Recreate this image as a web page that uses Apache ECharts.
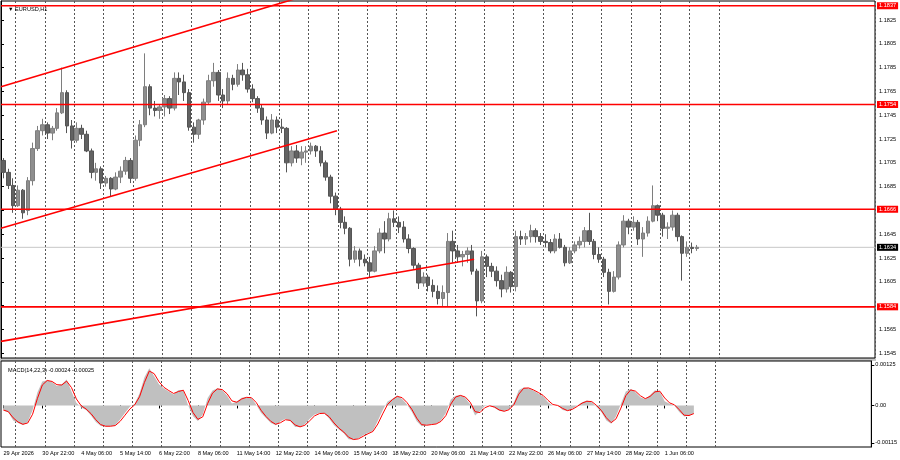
<!DOCTYPE html>
<html><head><meta charset="utf-8">
<script src="https://cdn.jsdelivr.net/npm/echarts@6/dist/echarts.min.js"></script>
<style>html,body{margin:0;padding:0;background:#fff}#c{width:900px;height:460px}</style>
</head><body><div id="c"></div>
<script>
const symbolTitle = '\u25BC EURUSD,H1';
const macdTitle = 'MACD(14,22,3) -0.00024 -0.00025';
const slotCount = 179; // 4-hour slots across the plot, incl. empty right margin
const xTickLabels = ['29 Apr 2026','30 Apr 22:00','4 May 06:00','5 May 14:00','6 May 22:00','8 May 06:00','11 May 14:00','12 May 22:00','14 May 06:00','15 May 14:00','18 May 22:00','20 May 06:00','21 May 14:00','22 May 22:00','26 May 06:00','27 May 14:00','28 May 22:00','1 Jun 06:00'];
const priceTicks = [1.1545,1.1565,1.1585,1.1605,1.1625,1.1645,1.1665,1.1685,1.1705,1.1725,1.1745,1.1765,1.1785,1.1805,1.1825];
const priceLabels = [1.1545,1.1565,1.1605,1.1625,1.1645,1.1685,1.1705,1.1725,1.1745,1.1765,1.1785,1.1805,1.1825];
const macdTicks = [0.00125, 0, -0.00115];
const levels = [1.1837, 1.1754, 1.1666, 1.1584];
const bidPrice = 1.1634;
const trendLines = [
  [[0, 1.1769], [62, 1.1845]],
  [[0, 1.1650], [68.8, 1.1732]],
  [[0, 1.1555], [96.9, 1.1624]]
];
// [open, close, low, high]
const candles = [
[1.1707,1.1697,1.1692,1.1709],[1.1697,1.1686,1.1683,1.1700],[1.1686,1.1669,1.1663,1.1692],[1.1669,1.1682,1.1668,1.1686],[1.1682,1.1663,1.1658,1.1683],
[1.1665,1.1690,1.1661,1.1693],[1.1690,1.1717,1.1686,1.1722],[1.1717,1.1732,1.1715,1.1736],[1.1732,1.1737,1.1728,1.1742],[1.1737,1.1730,1.1725,1.1739],
[1.1730,1.1734,1.1724,1.1736],[1.1734,1.1747,1.1732,1.1751],[1.1747,1.1764,1.1746,1.1785],[1.1764,1.1736,1.1730,1.1766],[1.1736,1.1724,1.1717,1.1741],
[1.1724,1.1734,1.1722,1.1739],[1.1734,1.1729,1.1725,1.1737],[1.1729,1.1715,1.1714,1.1732],[1.1715,1.1697,1.1692,1.1717],[1.1697,1.1700,1.1690,1.1705],
[1.1700,1.1688,1.1683,1.1702],[1.1688,1.1692,1.1685,1.1694],[1.1692,1.1683,1.1677,1.1693],[1.1683,1.1693,1.1682,1.1697],[1.1693,1.1698,1.1688,1.1702],
[1.1698,1.1707,1.1695,1.1710],[1.1707,1.1692,1.1688,1.1709],[1.1692,1.1724,1.1690,1.1728],[1.1724,1.1737,1.1719,1.1741],[1.1737,1.1769,1.1735,1.1797],
[1.1769,1.1751,1.1745,1.1771],[1.1751,1.1749,1.1744,1.1757],[1.1749,1.1752,1.1742,1.1754],[1.1752,1.1759,1.1744,1.1762],[1.1759,1.1751,1.1746,1.1761],
[1.1751,1.1776,1.1749,1.1781],[1.1776,1.1773,1.1762,1.1781],[1.1773,1.1764,1.1757,1.1779],[1.1764,1.1735,1.1732,1.1767],[1.1735,1.1729,1.1722,1.1739],
[1.1729,1.1741,1.1725,1.1742],[1.1741,1.1756,1.1737,1.1759],[1.1756,1.1774,1.1754,1.1779],[1.1774,1.1781,1.1769,1.1789],[1.1781,1.1762,1.1757,1.1783],
[1.1762,1.1757,1.1751,1.1767],[1.1757,1.1776,1.1754,1.1781],[1.1776,1.1771,1.1766,1.1779],[1.1771,1.1783,1.1769,1.1788],[1.1783,1.1779,1.1774,1.1789],
[1.1779,1.1767,1.1764,1.1784],[1.1767,1.1759,1.1756,1.1771],[1.1759,1.1751,1.1747,1.1761],[1.1751,1.1741,1.1737,1.1754],[1.1741,1.1730,1.1725,1.1744],
[1.1730,1.1741,1.1729,1.1746],[1.1741,1.1735,1.1730,1.1744],[1.1735,1.1734,1.1730,1.1742],[1.1734,1.1705,1.1697,1.1735],[1.1705,1.1715,1.1702,1.1719],
[1.1715,1.1709,1.1705,1.1720],[1.1709,1.1714,1.1703,1.1719],[1.1714,1.1715,1.1705,1.1719],[1.1715,1.1719,1.1712,1.1722],[1.1719,1.1715,1.1710,1.1720],
[1.1715,1.1705,1.1702,1.1719],[1.1705,1.1693,1.1690,1.1707],[1.1693,1.1677,1.1671,1.1695],[1.1677,1.1666,1.1661,1.1680],[1.1666,1.1655,1.1650,1.1668],
[1.1655,1.1650,1.1645,1.1660],[1.1650,1.1624,1.1618,1.1651],[1.1624,1.1631,1.1621,1.1635],[1.1631,1.1624,1.1618,1.1633],[1.1624,1.1621,1.1618,1.1628],
[1.1621,1.1614,1.1609,1.1626],[1.1614,1.1631,1.1613,1.1635],[1.1631,1.1646,1.1629,1.1650],[1.1646,1.1641,1.1629,1.1656],[1.1641,1.1658,1.1639,1.1663],
[1.1658,1.1655,1.1651,1.1665],[1.1655,1.1651,1.1646,1.1660],[1.1651,1.1641,1.1638,1.1656],[1.1641,1.1633,1.1629,1.1645],[1.1633,1.1619,1.1616,1.1634],
[1.1619,1.1604,1.1599,1.1621],[1.1604,1.1609,1.1601,1.1613],[1.1609,1.1602,1.1597,1.1611],[1.1602,1.1597,1.1592,1.1607],[1.1597,1.1591,1.1586,1.1602],
[1.1591,1.1596,1.1584,1.1602],[1.1596,1.1639,1.1584,1.1646],[1.1639,1.1631,1.1621,1.1648],[1.1631,1.1626,1.1621,1.1636],[1.1626,1.1628,1.1618,1.1631],
[1.1628,1.1631,1.1621,1.1634],[1.1631,1.1614,1.1611,1.1636],[1.1614,1.1589,1.1576,1.1616],[1.1589,1.1626,1.1587,1.1631],[1.1626,1.1618,1.1609,1.1628],
[1.1618,1.1614,1.1609,1.1621],[1.1614,1.1606,1.1601,1.1618],[1.1606,1.1599,1.1592,1.1611],[1.1599,1.1613,1.1596,1.1618],[1.1613,1.1601,1.1596,1.1614],
[1.1601,1.1643,1.1597,1.1648],[1.1643,1.1641,1.1636,1.1648],[1.1641,1.1643,1.1636,1.1646],[1.1643,1.1648,1.1638,1.1653],[1.1648,1.1643,1.1638,1.1650],
[1.1643,1.1639,1.1636,1.1646],[1.1639,1.1638,1.1634,1.1645],[1.1638,1.1631,1.1629,1.1641],[1.1631,1.1641,1.1629,1.1645],[1.1641,1.1634,1.1633,1.1646],
[1.1634,1.1621,1.1618,1.1636],[1.1621,1.1631,1.1620,1.1634],[1.1631,1.1636,1.1629,1.1639],[1.1636,1.1639,1.1633,1.1643],[1.1639,1.1648,1.1634,1.1651],
[1.1648,1.1639,1.1636,1.1663],[1.1639,1.1628,1.1624,1.1641],[1.1628,1.1624,1.1621,1.1634],[1.1624,1.1613,1.1609,1.1626],[1.1613,1.1597,1.1586,1.1616],
[1.1597,1.1609,1.1596,1.1614],[1.1609,1.1636,1.1607,1.1639],[1.1636,1.1656,1.1634,1.1661],[1.1656,1.1651,1.1645,1.1658],[1.1651,1.1655,1.1648,1.1660],
[1.1655,1.1641,1.1636,1.1657],[1.1641,1.1646,1.1626,1.1651],[1.1646,1.1656,1.1643,1.1660],[1.1656,1.1669,1.1655,1.1686],[1.1669,1.1661,1.1656,1.1670],
[1.1661,1.1650,1.1643,1.1663],[1.1650,1.1651,1.1641,1.1655],[1.1651,1.1661,1.1648,1.1665],[1.1661,1.1643,1.1639,1.1663],[1.1643,1.1629,1.1606,1.1644],
[1.1629,1.1634,1.1626,1.1639],[1.1634,1.1633,1.1629,1.1638],[1.1633,1.1634,1.1631,1.1636]
];
const macdMain = [-0.00016,-0.00021,-0.00046,-0.00054,-0.00060,-0.00051,-0.00015,0.00041,0.00074,0.00078,
0.00072,0.00060,0.00065,0.00080,0.00043,0.00008,-0.00006,-0.00014,-0.00031,-0.00051,
-0.00063,-0.00065,-0.00064,-0.00061,-0.00043,-0.00023,-0.00004,0.00005,0.00038,0.00087,
0.00115,0.00090,0.00065,0.00052,0.00043,0.00034,0.00048,0.00046,0.00000,-0.00033,
-0.00048,-0.00028,0.00023,0.00046,0.00053,0.00047,0.00031,0.00006,0.00012,0.00024,
0.00026,0.00023,0.00002,-0.00023,-0.00039,-0.00054,-0.00061,-0.00049,-0.00041,-0.00049,
-0.00066,-0.00066,-0.00058,-0.00041,-0.00028,-0.00023,-0.00024,-0.00041,-0.00061,-0.00074,
-0.00086,-0.00104,-0.00106,-0.00101,-0.00092,-0.00085,-0.00078,-0.00047,-0.00015,0.00012,
0.00021,0.00031,0.00020,0.00003,-0.00020,-0.00049,-0.00064,-0.00060,-0.00058,-0.00056,
-0.00046,-0.00023,0.00018,0.00030,0.00032,0.00023,0.00004,-0.00031,-0.00018,-0.00002,
0.00000,-0.00007,-0.00017,-0.00018,-0.00010,0.00010,0.00048,0.00055,0.00053,0.00046,
0.00037,0.00028,0.00010,0.00000,0.00000,-0.00014,-0.00017,-0.00010,0.00000,0.00010,
0.00015,0.00010,-0.00005,-0.00021,-0.00046,-0.00056,-0.00033,0.00005,0.00043,0.00051,
0.00041,0.00025,0.00019,0.00032,0.00047,0.00043,0.00013,0.00005,0.00000,-0.00020,
-0.00034,-0.00031,-0.00024];
const macdSignal = [-0.00014,-0.00019,-0.00038,-0.00051,-0.00058,-0.00054,-0.00027,0.00022,0.00063,0.00077,
0.00074,0.00064,0.00063,0.00075,0.00055,0.00020,-0.00001,-0.00011,-0.00025,-0.00044,
-0.00059,-0.00064,-0.00064,-0.00062,-0.00049,-0.00030,-0.00011,0.00002,0.00027,0.00071,
0.00106,0.00098,0.00073,0.00056,0.00046,0.00037,0.00043,0.00047,0.00015,-0.00022,
-0.00043,-0.00035,0.00006,0.00038,0.00051,0.00049,0.00036,0.00014,0.00010,0.00020,
0.00025,0.00024,0.00009,-0.00015,-0.00034,-0.00049,-0.00058,-0.00053,-0.00044,-0.00046,
-0.00060,-0.00066,-0.00061,-0.00047,-0.00032,-0.00025,-0.00024,-0.00035,-0.00054,-0.00070,
-0.00082,-0.00098,-0.00105,-0.00103,-0.00095,-0.00087,-0.00080,-0.00057,-0.00026,0.00003,
0.00018,0.00028,0.00024,0.00009,-0.00012,-0.00039,-0.00059,-0.00061,-0.00059,-0.00057,
-0.00049,-0.00031,0.00004,0.00026,0.00031,0.00026,0.00010,-0.00019,-0.00022,-0.00007,
-0.00001,-0.00005,-0.00014,-0.00018,-0.00013,0.00003,0.00035,0.00053,0.00054,0.00048,
0.00040,0.00031,0.00016,0.00003,0.00000,-0.00009,-0.00016,-0.00012,-0.00003,0.00007,
0.00013,0.00012,0.00000,-0.00016,-0.00038,-0.00053,-0.00041,-0.00008,0.00030,0.00048,
0.00044,0.00030,0.00021,0.00028,0.00042,0.00044,0.00023,0.00008,0.00002,-0.00013,
-0.00030,-0.00031,-0.00025];

const slots = [];
for (let i = 0; i < slotCount; i++) slots.push(String(i));
const FONT = 'Liberation Sans';
const FS = 5.6;
const labelEvery = 8;
const isLabel = (i) => i % labelEvery === 0 && i / labelEvery < xTickLabels.length;
const isDayLine = (i) => i >= 3 && i <= 147 && (i - 3) % 6 === 0;
const gridLine = { show: true, interval: isDayLine, lineStyle: { color: '#555', type: [2, 2], width: 1 } };

function hLine(v, color, width, boxColor, z) {
  return {
    type: 'line', xAxisIndex: 2, yAxisIndex: 0, silent: true, showSymbol: false, clip: false, z: z,
    data: [[0, v], [slotCount, v]],
    lineStyle: { color: color, width: width },
    endLabel: { show: true, distance: 2, formatter: v.toFixed(4), color: '#fff', backgroundColor: boxColor,
      fontSize: FS, fontFamily: FONT, padding: [1, 2, 0, 2] }
  };
}

const chart = echarts.init(document.getElementById('c'), null, { renderer: 'canvas' });
chart.setOption({
  animation: false,
  backgroundColor: '#fff',
  textStyle: { fontFamily: FONT },
  title: [
    { text: symbolTitle, left: 3, top: 1, textStyle: { fontSize: FS, fontWeight: 'normal', color: '#000', fontFamily: FONT } },
    { text: macdTitle, left: 3, top: 362, textStyle: { fontSize: FS, fontWeight: 'normal', color: '#000', fontFamily: FONT } }
  ],
  graphic: [
    { type: 'rect', shape: { x: 0, y: 358, width: 876, height: 3 }, style: { fill: '#c4c4c4' }, z: -1 }
  ],
  grid: [
    { left: 1, right: 25, top: 1, height: 357, show: true, borderColor: '#000', borderWidth: 1, backgroundColor: '#fff' },
    { left: 1, right: 25, top: 361, height: 86, show: true, borderColor: '#000', borderWidth: 1, backgroundColor: '#fff' }
  ],
  xAxis: [
    { type: 'category', gridIndex: 0, data: slots, boundaryGap: true,
      axisLine: { show: false }, axisTick: { show: false }, axisLabel: { show: false }, splitLine: gridLine },
    { type: 'category', gridIndex: 1, data: slots, boundaryGap: true,
      axisLine: { show: false },
      axisTick: { show: true, interval: isLabel, alignWithLabel: true, length: 3, lineStyle: { color: '#000' } },
      axisLabel: { show: true, interval: isLabel, align: 'left', margin: 3, fontSize: FS, color: '#000', fontFamily: FONT,
        formatter: (v, i) => xTickLabels[i / labelEvery] || '' },
      splitLine: gridLine },
    { type: 'value', gridIndex: 0, min: 0, max: slotCount, show: false }
  ],
  yAxis: [
    { type: 'value', gridIndex: 0, position: 'right', min: 1.1541, max: 1.1841, scale: true,
      axisLine: { show: true, lineStyle: { color: '#000' } },
      axisTick: { show: true, length: 3, customValues: priceTicks, lineStyle: { color: '#000' } },
      axisLabel: { show: true, customValues: priceLabels, margin: 4, fontSize: FS, color: '#000', fontFamily: FONT, formatter: v => v.toFixed(4) },
      splitLine: { show: false } },
    { type: 'value', gridIndex: 1, position: 'right', min: -0.00128, max: 0.00137,
      axisLine: { show: true, lineStyle: { color: '#000' } },
      axisTick: { show: true, length: 3, customValues: macdTicks, lineStyle: { color: '#000' } },
      axisLabel: { show: true, customValues: macdTicks, margin: 4, fontSize: FS, color: '#000', fontFamily: FONT, formatter: v => Math.abs(v) < 1e-9 ? '0.00' : v.toFixed(5) },
      splitLine: { show: false } }
  ],
  series: [
    hLine(bidPrice, '#c8c8c8', 1, '#000', 1),
    { type: 'candlestick', xAxisIndex: 0, yAxisIndex: 0, data: candles, barWidth: 4, z: 2,
      itemStyle: { color: '#8e8e8e', color0: '#626262', borderColor: '#7e7e7e', borderColor0: '#555', borderWidth: 1 }
    },
    ...levels.map(v => hLine(v, '#ff0000', 1.6, '#ff0000', 4)),
    ...trendLines.map(seg => ({
      type: 'line', xAxisIndex: 2, yAxisIndex: 0, data: seg, showSymbol: false, clip: true, silent: true,
      lineStyle: { color: '#ff0000', width: 1.6 }, z: 5
    })),
    { type: 'line', xAxisIndex: 1, yAxisIndex: 1, data: macdMain, showSymbol: false, silent: true,
      lineStyle: { width: 0 }, itemStyle: { color: '#c0c0c0' }, areaStyle: { color: '#c0c0c0', opacity: 1 } },
    { type: 'line', xAxisIndex: 1, yAxisIndex: 1, data: macdSignal, showSymbol: false, silent: true,
      lineStyle: { color: '#ff0000', width: 1 }, itemStyle: { color: '#ff0000' } }
  ]
});
</script>
</body></html>
